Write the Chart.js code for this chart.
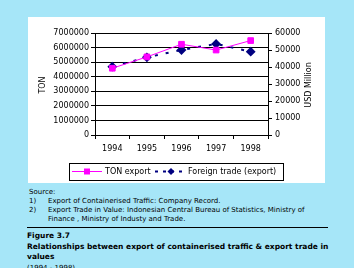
<!DOCTYPE html>
<html>
<head>
<meta charset="utf-8">
<script src="https://cdn.jsdelivr.net/npm/chart.js@4"></script>
<style>
body{margin:0;width:354px;height:268px;background:#a6e6f8;overflow:hidden;position:relative;font-family:"DejaVu Sans",sans-serif;color:#000}
#box{position:absolute;left:28px;top:17px;width:297px;height:166px;background:#fff}
.t{position:absolute;white-space:nowrap;font-size:7px;line-height:9px}
.b{font-weight:bold;font-size:7.5px;line-height:10px}
#rule{position:absolute;left:27px;top:227px;width:301px;height:1px;background:#000}
</style>
</head>
<body>
<div id="box"><canvas id="mycanvas" width="297" height="166"></canvas></div>
<div class="t" style="left:29px;top:188px">Source:</div>
<div class="t" style="left:29px;top:197px">1)</div>
<div class="t" style="left:48px;top:197px">Export of Containerised Traffic: Company Record.</div>
<div class="t" style="left:29px;top:206px">2)</div>
<div class="t" style="left:48px;top:206px">Export Trade in Value: Indonesian Central Bureau of Statistics, Ministry of</div>
<div class="t" style="left:48px;top:215px">Finance , Ministry of Industy and Trade.</div>
<div id="rule"></div>
<div class="t b" style="left:27px;top:231px">Figure 3.7</div>
<div class="t b" style="left:27px;top:242px">Relationships between export of containerised traffic &amp; export trade in</div>
<div class="t b" style="left:27px;top:252px">values</div>
<div class="t" style="left:27px;top:264px">(1994 - 1998)</div>
<script>
var years = ['1994', '1995', '1996', '1997', '1998'];
var tonExport = [4580000, 5360000, 6230000, 5830000, 6480000];
var foreignTrade = [40200, 45700, 50000, 53600, 49000];
var font = {family: 'DejaVu Sans', size: 8};
var plain = function(v) { return String(v); };

// legend with a frame and line samples, plus the axis titles
var extras = {
	id: 'extras',
	afterDraw: function(chart) {
		var c = chart.ctx;
		c.save();
		c.strokeStyle = '#000';
		c.lineWidth = 1;
		c.strokeRect(41.5, 146.5, 214, 17);
		var y = 154.5;
		c.strokeStyle = '#ff00ff';
		c.beginPath(); c.moveTo(44, y); c.lineTo(74, y); c.stroke();
		c.fillStyle = '#ff00ff';
		c.fillRect(56, y - 3, 6, 6);
		c.strokeStyle = '#000080';
		c.lineWidth = 2;
		c.setLineDash([3, 5]);
		c.beginPath(); c.moveTo(127, y); c.lineTo(154, y); c.stroke();
		c.setLineDash([]);
		c.fillStyle = '#000080';
		c.beginPath(); c.moveTo(143, y - 3.5); c.lineTo(146.5, y); c.lineTo(143, y + 3.5); c.lineTo(139.5, y); c.closePath(); c.fill();
		c.fillStyle = '#000';
		c.font = '8px "DejaVu Sans"';
		c.textBaseline = 'middle';
		c.fillText('TON export', 77, y);
		c.fillText('Foreign trade (export)', 160, y);
		c.translate(15, 68);
		c.rotate(-Math.PI / 2);
		c.textAlign = 'center';
		c.fillText('TON', 0, 0);
		c.setTransform(1, 0, 0, 1, 0, 0);
		c.translate(281, 68);
		c.rotate(-Math.PI / 2);
		c.fillText('USD Million', 0, 0);
		c.restore();
	}
};

var chartdata = {
	labels: years,
	datasets: [
		{
			label: 'TON export',
			data: tonExport,
			yAxisID: 'y',
			borderColor: '#ff00ff',
			backgroundColor: '#ff00ff',
			borderWidth: 1,
			pointStyle: 'rect',
			pointRadius: 4,
			tension: 0
		},
		{
			label: 'Foreign trade (export)',
			data: foreignTrade,
			yAxisID: 'y1',
			borderColor: '#000080',
			backgroundColor: '#000080',
			borderWidth: 2,
			borderDash: [3, 8],
			pointStyle: 'rectRot',
			pointRadius: 3.5,
			tension: 0
		}
	]
};

var ctx = document.getElementById('mycanvas');
var lineGraph = new Chart(ctx, {
	type: 'line',
	data: chartdata,
	plugins: [extras],
	options: {
		responsive: false,
		animation: false,
		layout: {padding: {top: 16, bottom: 20, left: 0, right: 0}},
		plugins: {legend: {display: false}, tooltip: {enabled: false}},
		scales: {
			x: {
				offset: true,
				grid: {offset: true, drawOnChartArea: false, color: '#000', tickLength: 4},
				border: {color: '#000'},
				ticks: {font: font, color: '#000', padding: 5, maxRotation: 0},
				afterFit: function(s) { s.height = 28; }
			},
			y: {
				position: 'left',
				min: 0, max: 7000000,
				grid: {color: '#000', tickLength: 4},
				border: {color: '#000'},
				ticks: {stepSize: 1000000, font: font, color: '#000', padding: 2, callback: plain},
				afterFit: function(s) { s.width = 67; }
			},
			y1: {
				position: 'right',
				min: 0, max: 60000,
				grid: {drawOnChartArea: false, color: '#000', tickLength: 4},
				border: {color: '#000'},
				ticks: {stepSize: 10000, font: font, color: '#000', padding: 3, callback: plain},
				afterFit: function(s) { s.width = 57; }
			}
		}
	}
});
</script>
</body>
</html>
